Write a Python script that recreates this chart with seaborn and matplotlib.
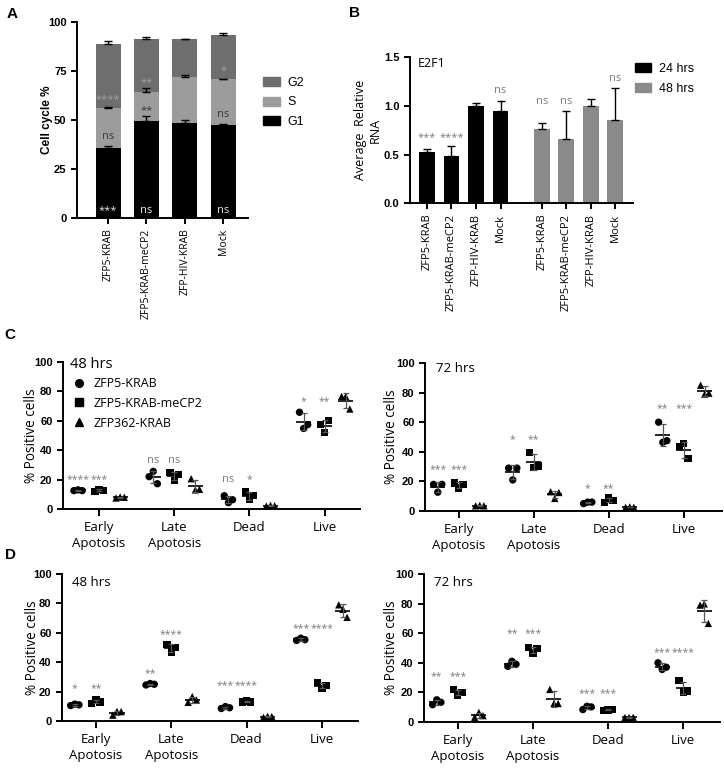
import numpy as np
import pandas as pd
import matplotlib
matplotlib.use("Agg")
import matplotlib.pyplot as plt
from matplotlib.patches import Patch
from matplotlib.lines import Line2D
import seaborn as sns

# ---------------- data ----------------
constructs = ["ZFP5-KRAB", "ZFP5-KRAB-meCP2", "ZFP-HIV-KRAB", "Mock"]

# Panel A - cell cycle segment heights (%)
a_g1 = [35.9, 49.5, 48.6, 47.5]
a_s = [20.0, 14.9, 23.4, 23.2]
a_g2 = [32.7, 26.6, 19.0, 22.7]
a_g1_err = [0.7, 2.5, 1.2, 0.3]
a_s_err = [0.7, 1.9, 0.7, 0.1]
a_g2_err = [1.6, 1.0, 0.4, 0.6]
a_sig_g1 = ["***", "ns", "", "ns"]
a_sig_s = ["ns", "**", "", "ns"]
a_sig_g2 = ["****", "**", "", "*"]

# Panel B - E2F1 relative RNA
b_times = ["24 hrs", "48 hrs"]
b_24 = [0.53, 0.49, 1.00, 0.95]
b_24_err = [0.03, 0.095, 0.03, 0.105]
b_48 = [0.767, 0.664, 1.00, 0.853]
b_48_err = [0.053, 0.281, 0.07, 0.332]
b_sig_24 = ["***", "****", "", "ns"]
b_sig_48 = ["ns", "ns", "", "ns"]
b_sig_y_24 = [0.67, 0.67, 0, 1.16]
b_sig_y_48 = [1.05, 1.05, 0, 1.28]

# Panels C, D - apoptosis assays (3 replicates each)
categories = ["Early\nApotosis", "Late\nApotosis", "Dead", "Live"]
series = ["ZFP5-KRAB", "ZFP5-KRAB-meCP2", "ZFP362-KRAB"]

c48_zfp5 = [[12.5, 13.0, 12.5], [22.0, 25.6, 17.2], [9.0, 4.3, 6.3], [65.8, 54.8, 57.4]]
c48_mecp2 = [[12.0, 13.2, 12.8], [25.0, 19.5, 23.4], [11.5, 6.3, 9.0], [57.4, 52.0, 60.0]]
c48_zfp362 = [[7.5, 8.2, 8.0], [20.6, 13.0, 13.4], [2.0, 2.5, 2.2], [76.6, 76.6, 68.0]]
c48_sig = [["****", "ns", "ns", "*"], ["***", "ns", "*", "**"]]
c48_sig_y = [[20, 33, 20, 73], [20, 33, 20, 73]]

c72_zfp5 = [[18.0, 12.7, 18.0], [29.0, 21.0, 29.0], [5.0, 6.0, 6.0], [60.0, 46.4, 47.5]]
c72_mecp2 = [[19.0, 15.4, 18.0], [39.4, 29.6, 30.3], [5.9, 8.8, 7.2], [43.7, 45.5, 35.3]]
c72_zfp362 = [[3.5, 3.8, 3.5], [13.0, 8.5, 12.5], [2.5, 2.8, 2.5], [85.0, 79.0, 79.6]]
c72_sig = [["***", "*", "*", "**"], ["***", "**", "**", "***"]]
c72_sig_y = [[28, 48.5, 15, 69], [28, 48.5, 15, 69]]

d48_zfp5 = [[10.5, 11.5, 11.0], [24.5, 25.5, 25.0], [8.5, 9.8, 9.0], [54.8, 56.3, 55.3]]
d48_mecp2 = [[12.0, 14.5, 13.0], [52.0, 47.0, 50.0], [13.0, 13.5, 13.0], [26.0, 22.3, 24.0]]
d48_zfp362 = [[4.0, 6.5, 6.4], [12.7, 16.6, 14.3], [2.5, 3.2, 3.0], [79.0, 76.0, 70.5]]
d48_sig = [["*", "**", "***", "***"], ["**", "****", "****", "****"]]
d48_sig_y = [[22, 32.5, 24, 63], [22, 59, 24, 63]]

d72_zfp5 = [[11.7, 15.0, 13.3], [37.6, 41.0, 39.0], [8.4, 10.6, 10.2], [40.0, 35.5, 37.0]]
d72_mecp2 = [[21.8, 18.0, 20.0], [50.5, 46.3, 49.6], [7.8, 8.2, 8.5], [28.0, 20.2, 21.0]]
d72_zfp362 = [[3.2, 6.5, 4.3], [22.0, 12.5, 12.5], [3.0, 3.0, 3.2], [79.0, 79.8, 66.6]]
d72_sig = [["**", "**", "***", "***"], ["***", "***", "***", "****"]]
d72_sig_y = [[31, 60, 19.5, 47], [31, 60, 19.5, 47]]

# ---------------- style ----------------
sns.set_theme(style="ticks")
plt.rcParams["font.family"] = ["Open Sans", "DejaVu Sans"]
plt.rcParams.update({
    "axes.linewidth": 1.4, "axes.edgecolor": "black",
    "xtick.major.width": 1.4, "ytick.major.width": 1.4,
    "xtick.major.size": 4, "ytick.major.size": 4,
    "xtick.color": "black", "ytick.color": "black",
    "text.color": "black", "axes.labelcolor": "black",
})
BOLD = dict(family="Liberation Sans", weight="bold", size=8)
STAR_C = "#7a7a7a"

fig = plt.figure(figsize=(7.24, 7.72), dpi=100)
W, H = 724, 772


def add_ax(x0, y0, x1, y1):
    return fig.add_axes([x0 / W, 1 - y1 / H, (x1 - x0) / W, (y1 - y0) / H])


def style_ax(ax):
    sns.despine(ax=ax)
    for lab in ax.get_yticklabels():
        lab.set_fontproperties(BOLD)


# ---------------- Panel A ----------------
axA = add_ax(77, 21.7, 248, 218.3)
g1 = np.array(a_g1)
s_top = g1 + np.array(a_s)
g2_top = s_top + np.array(a_g2)
c_g2, c_s = "#6e6e6e", "#9c9c9c"
for tops, col in [(g2_top, c_g2), (s_top, c_s), (g1, "black")]:
    sns.barplot(x=constructs, y=tops, color=col, width=0.65, linewidth=0,
                errorbar=None, ax=axA, saturation=1)
xa = np.arange(len(constructs))
for tops, err in [(g1, a_g1_err), (s_top, a_s_err), (g2_top, a_g2_err)]:
    axA.errorbar(xa, tops, yerr=[np.zeros(len(err)), err], fmt="none",
                 ecolor="black", elinewidth=1, capsize=3, capthick=1, zorder=5)
for i in range(len(constructs)):
    axA.text(i, 4, a_sig_g1[i], ha="center", va="center", fontsize=8,
             color="#e8e8e8")
    axA.text(i, g1[i] + 5.5, a_sig_s[i], ha="center", va="center", fontsize=8,
             color="#3a3a3a")
    axA.text(i, s_top[i] + 4.5, a_sig_g2[i], ha="center", va="center",
             fontsize=8, color="#a0a0a0")
axA.set_xlim(-0.81, 3.65)
axA.set_ylim(0, 100)
axA.set_yticks([0, 25, 50, 75, 100])
axA.set_xticks(xa)
axA.set_xticklabels(constructs, rotation=90, fontsize=7.5)
axA.set_ylabel("Cell cycle %", fontproperties=dict(family="Liberation Sans",
                                                   weight="bold", size=8.5))
axA.yaxis.set_label_coords(-0.175, 0.5)
axA.yaxis.label.set_va("center")
axA.set_xlabel("")
style_ax(axA)
axA.legend(handles=[Patch(color=c_g2, label="G2"), Patch(color=c_s, label="S"),
                    Patch(color="black", label="G1")],
           loc="upper left", bbox_to_anchor=(1.09, 0.72), frameon=False,
           prop=dict(family="Liberation Sans", size=9), handlelength=1.3,
           handleheight=0.75, labelspacing=0.62, handletextpad=0.6,
           borderpad=0, borderaxespad=0)

# ---------------- Panel B ----------------
axB = add_ax(410, 57.3, 633, 203.3)
b_pos = [0, 1, 2, 3, 4.68, 5.68, 6.68, 7.68]
dfB = pd.DataFrame({
    "pos": b_pos,
    "val": b_24 + b_48,
    "time": [b_times[0]] * 4 + [b_times[1]] * 4,
})
pal_B = {"24 hrs": "black", "48 hrs": "#8a8a8a"}
sns.barplot(data=dfB, x="pos", y="val", hue="time", palette=pal_B,
            native_scale=True, dodge=False, width=0.64, linewidth=0,
            errorbar=None, legend=False, ax=axB, saturation=1)
axB.errorbar(b_pos, dfB["val"], yerr=[np.zeros(8), b_24_err + b_48_err],
             fmt="none", ecolor="black", elinewidth=1, capsize=3, capthick=1,
             zorder=5)
for i, (t, y) in enumerate(zip(b_sig_24 + b_sig_48, b_sig_y_24 + b_sig_y_48)):
    if t:
        axB.text(b_pos[i], y, t, ha="center", va="center", fontsize=8,
                 color=STAR_C)
axB.set_xlim(-0.69, 8.4)
axB.set_ylim(0, 1.5)
axB.set_yticks([0, 0.5, 1.0, 1.5])
axB.set_yticklabels(["0.0", "0.5", "1.0", "1.5"])
axB.set_xticks(b_pos)
axB.set_xticklabels(constructs + constructs, rotation=90, fontsize=8)
axB.set_xlabel("")
axB.set_ylabel("Average  Relative\nRNA", fontsize=9)
axB.yaxis.set_label_coords(-0.19, 0.5)
axB.yaxis.label.set_va("center")
axB.text(0.035, 0.96, "E2F1", transform=axB.transAxes, ha="left",
         va="center", fontsize=9)
style_ax(axB)
axB.legend(handles=[Patch(color=pal_B[t], label=t) for t in b_times],
           loc="upper left", bbox_to_anchor=(1.01, 0.96), frameon=False,
           prop=dict(family="Liberation Sans", size=9), handlelength=1.3,
           handleheight=0.75, labelspacing=0.6, handletextpad=0.6,
           borderpad=0, borderaxespad=0)

# ---------------- Panels C & D ----------------
markers = {"ZFP5-KRAB": "o", "ZFP5-KRAB-meCP2": "s", "ZFP362-KRAB": "^"}
series_off = [-0.28, 0.0, 0.28]
rep_off = [-0.055, 0.0, 0.055]


def scatter_panel(ax, data3, sig, sig_y, title, tpos, tsize, xlim,
                  label_x, legend=False):
    rows = []
    for si, name in enumerate(series):
        for ci in range(len(categories)):
            for ri, v in enumerate(data3[si][ci]):
                rows.append(dict(series=name, cat=ci,
                                 x=ci + series_off[si] + rep_off[ri], y=v))
    df = pd.DataFrame(rows)
    sns.scatterplot(data=df, x="x", y="y", style="series", markers=markers,
                    color="black", s=28, linewidth=0, legend=False, ax=ax,
                    zorder=3)
    stats = df.groupby(["series", "cat"], sort=False)["y"].agg(["mean", "std"])
    for (name, ci), r in stats.iterrows():
        xc = ci + series_off[series.index(name)]
        ax.hlines(r["mean"], xc - 0.1, xc + 0.1, color="black", lw=1.2,
                  zorder=4)
        ax.errorbar(xc, r["mean"], yerr=r["std"], fmt="none", ecolor="#555555",
                    elinewidth=0.9, capsize=2.2, capthick=0.9, zorder=4)
    for si in range(2):
        for ci in range(len(categories)):
            t = sig[si][ci]
            ax.text(ci + series_off[si], sig_y[si][ci], t, ha="center",
                    va="center", fontsize=7.5 if "*" in t else 8,
                    color=STAR_C)
    ax.set_xlim(*xlim)
    ax.set_ylim(0, 100)
    ax.set_yticks([0, 20, 40, 60, 80, 100])
    ax.set_xticks(range(len(categories)))
    ax.set_xticklabels(categories, fontsize=9.5, linespacing=1.3)
    ax.tick_params(axis="x", length=5)
    ax.set_xlabel("")
    ax.set_ylabel("% Positive cells", fontsize=9.8)
    ax.yaxis.set_label_coords(label_x, 0.5)
    ax.yaxis.label.set_va("center")
    ax.text(tpos[0], tpos[1], title, transform=ax.transAxes, ha="left",
            va="center", fontsize=tsize)
    style_ax(ax)
    if legend:
        handles = [Line2D([], [], ls="none", marker=markers[n], color="black",
                          markersize=5.5, label=n) for n in series]
        ax.legend(handles=handles, loc="upper left",
                  bbox_to_anchor=(0.034, 0.898), frameon=False, fontsize=9,
                  handlelength=1.0, handletextpad=0.66, labelspacing=0.55,
                  borderpad=0, borderaxespad=0)


axC1 = add_ax(63, 362, 360, 509)
scatter_panel(axC1, [c48_zfp5, c48_mecp2, c48_zfp362], c48_sig, c48_sig_y,
              "48 hrs", (0.024, 0.983), 10.5, (-0.48, 3.47), -0.105, legend=True)
axC2 = add_ax(425, 363, 722, 511)
scatter_panel(axC2, [c72_zfp5, c72_mecp2, c72_zfp362], c72_sig, c72_sig_y,
              "72 hrs", (0.037, 0.96), 9.5, (-0.45, 3.51), -0.114)
axD1 = add_ax(62, 574, 358, 721)
scatter_panel(axD1, [d48_zfp5, d48_mecp2, d48_zfp362], d48_sig, d48_sig_y,
              "48 hrs", (0.033, 0.94), 9.5, (-0.45, 3.48), -0.101)
axD2 = add_ax(424, 574, 720, 722)
scatter_panel(axD2, [d72_zfp5, d72_mecp2, d72_zfp362], d72_sig, d72_sig_y,
              "72 hrs", (0.033, 0.94), 9.5, (-0.45, 3.49), -0.111)

# panel letters
for lab, (px, py) in {"A": (12, 14), "B": (355, 13), "C": (10, 335),
                      "D": (10, 555)}.items():
    fig.text(px / W, 1 - py / H, lab, ha="center", va="center",
             family="Liberation Sans", weight="bold", fontsize=11)

fig.savefig("out.png", dpi=100)
